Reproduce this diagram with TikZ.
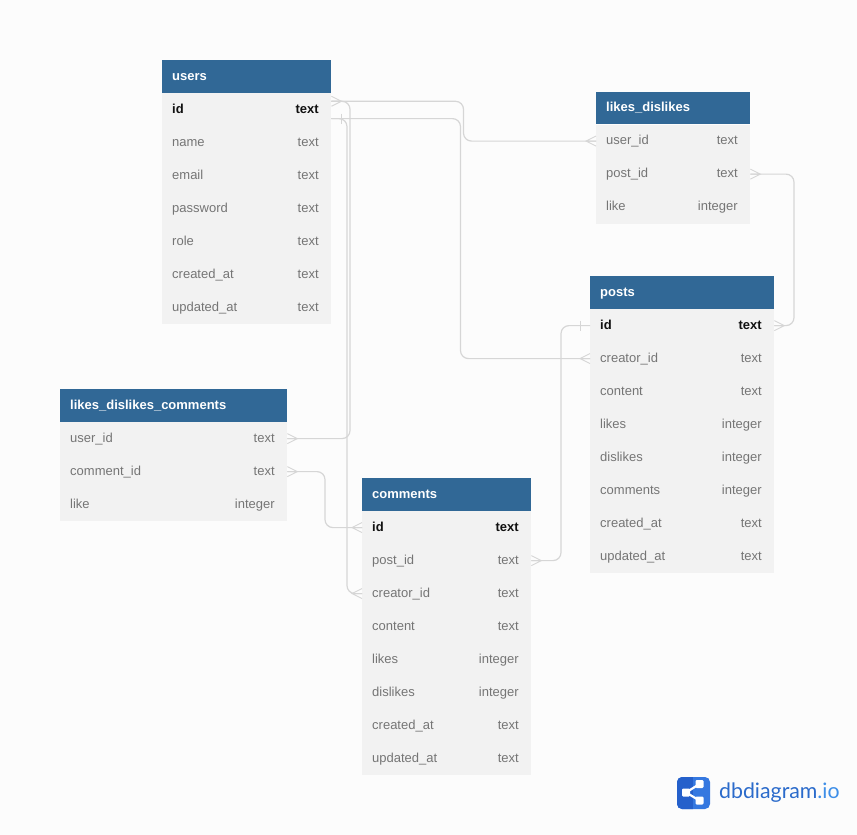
\documentclass[tikz,border=0pt]{standalone}
\usepackage{fontspec}
\setmainfont{Liberation Sans}
\newfontfamily\logofont{Lato}
\usetikzlibrary{calc, positioning}
\definecolor{paper}{HTML}{FCFCFC}
\definecolor{head}{HTML}{316896}
\definecolor{rowfill}{HTML}{F2F2F2}
\definecolor{muted}{HTML}{757575}
\definecolor{ink}{HTML}{111111}
\definecolor{wire}{HTML}{D6D6D6}
\definecolor{logodark}{HTML}{2560CB}
\definecolor{logolight}{HTML}{3578E0}
\definecolor{logotext}{HTML}{2B6BCB}
\definecolor{logotint}{HTML}{3F8FE8}
\tikzset{
  font=\fontsize{13}{15}\selectfont,
  %
  tablehead/.style={
    fill=head, anchor=north west, text=white, align=left, inner xsep=10pt,
    inner ysep=0pt, minimum height=32.5pt, text height=9pt, text depth=1.5pt,
    font=\fontsize{13}{15}\selectfont\bfseries,
  },
  rowbox/.style={
    fill=rowfill, anchor=north west, text=muted,
    align=left, inner xsep=10pt, inner ysep=0pt, minimum height=33pt,
    text height=9.5pt, text depth=2pt,
  },
  keybox/.style={rowbox, text=ink, font=\fontsize{13}{15}\selectfont\bfseries},
  typelbl/.style={text=muted, anchor=east, inner sep=0pt, text height=9.5pt, text depth=2pt},
  keylbl/.style={typelbl, text=ink, font=\fontsize{13}{15}\selectfont\bfseries},
  %
  link/.style={draw=wire, line width=1.2pt, rounded corners=8pt},
  foot/.style={draw=wire, line width=0.9pt},
  crow/.pic={\draw[foot] (0,-5) -- (10,0) -- (0,5) (0,0) -- (10,0);},
  bar/.pic={\draw[foot] (0,0) -- (10,0) (10,-5) -- (10,5);},
}
\begin{document}
\catcode`\_=12
\begin{tikzpicture}[x=1pt, y=-1pt]
\useasboundingbox (0,0) rectangle (857,835);
\fill[paper] (0,0) rectangle (857,835);

% =========================================================================
% TABLES
% =========================================================================
\node[tablehead, text width=149pt] (users) at (162,60) {users};
\node[keybox, text width=149pt, below=0pt of users.south west, anchor=north west] (users-id) {id};
\node[keylbl] (users-id-type) at ([xshift=-12.5pt]users-id.east) {text};
\foreach \rowname/\rowtype [count=\i] in {name/text, email/text, password/text,
    role/text, created_at/text, updated_at/text} {
  \node[rowbox, text width=149pt] (users-\rowname) at ([yshift=-33pt*\i]users-id.north west) {\rowname};
  \node[typelbl] (users-\rowname-type) at ([xshift=-12.5pt]users-\rowname.east) {\rowtype};
}

\node[tablehead, text width=134pt] (likes) at (596,91.5) {likes_dislikes};
\foreach \rowname/\rowtype [count=\i from 0] in {user_id/text, post_id/text, like/integer} {
  \node[rowbox, text width=134pt] (likes-\rowname) at ([yshift=-33pt*\i]likes.south west) {\rowname};
  \node[typelbl] (likes-\rowname-type) at ([xshift=-12.5pt]likes-\rowname.east) {\rowtype};
}

\node[tablehead, text width=164pt] (posts) at (590,276) {posts};
\node[keybox, text width=164pt, below=0pt of posts.south west, anchor=north west] (posts-id) {id};
\node[keylbl] (posts-id-type) at ([xshift=-12.5pt]posts-id.east) {text};
\foreach \rowname/\rowtype [count=\i] in {creator_id/text, content/text, likes/integer,
    dislikes/integer, comments/integer, created_at/text, updated_at/text} {
  \node[rowbox, text width=164pt] (posts-\rowname) at ([yshift=-33pt*\i]posts-id.north west) {\rowname};
  \node[typelbl] (posts-\rowname-type) at ([xshift=-12.5pt]posts-\rowname.east) {\rowtype};
}

\node[tablehead, text width=207pt] (likesc) at (60,389) {likes_dislikes_comments};
\foreach \rowname/\rowtype [count=\i from 0] in {user_id/text, comment_id/text, like/integer} {
  \node[rowbox, text width=207pt] (likesc-\rowname) at ([yshift=-33pt*\i]likesc.south west) {\rowname};
  \node[typelbl] (likesc-\rowname-type) at ([xshift=-12.5pt]likesc-\rowname.east) {\rowtype};
}

\node[tablehead, text width=149pt] (comments) at (362,478) {comments};
\node[keybox, text width=149pt, below=0pt of comments.south west, anchor=north west] (comments-id) {id};
\node[keylbl] (comments-id-type) at ([xshift=-12.5pt]comments-id.east) {text};
\foreach \rowname/\rowtype [count=\i] in {post_id/text, creator_id/text, content/text,
    likes/integer, dislikes/integer, created_at/text, updated_at/text} {
  \node[rowbox, text width=149pt] (comments-\rowname) at ([yshift=-33pt*\i]comments-id.north west) {\rowname};
  \node[typelbl] (comments-\rowname-type) at ([xshift=-12.5pt]comments-\rowname.east) {\rowtype};
}

% =========================================================================
% LINKS
% =========================================================================
\coordinate (u-top) at ([yshift=8.3pt]users-id.east);
\coordinate (u-low) at ([yshift=-9pt]users-id.east);
\coordinate (bus-a) at (463.5,0);
\coordinate (bus-b) at (350,0);
\coordinate (bus-c) at (460.5,0);
\coordinate (bus-d) at (347,0);
\coordinate (bus-e) at (794,0);
\coordinate (bus-f) at (561,0);
\coordinate (bus-g) at (325,0);

\draw[link] (u-top) -- (u-top -| bus-a) -- (likes-user_id.west -| bus-a) -- (likes-user_id.west);
\draw[link] (u-top) -- (u-top -| bus-b) -- (likesc-user_id.east -| bus-b) -- (likesc-user_id.east);
\draw[link] (u-low) -- (u-low -| bus-c) -- (posts-creator_id.west -| bus-c) -- (posts-creator_id.west);
\draw[link] (u-low) -- (u-low -| bus-d) -- (comments-creator_id.west -| bus-d) -- (comments-creator_id.west);
\draw[link] (likes-post_id.east) -- (likes-post_id.east -| bus-e) -- (posts-id.east -| bus-e) -- (posts-id.east);
\draw[link] (comments-post_id.east) -- (comments-post_id.east -| bus-f) -- (posts-id.west -| bus-f) -- (posts-id.west);
\draw[link] (likesc-comment_id.east) -- (likesc-comment_id.east -| bus-g) -- (comments-id.west -| bus-g) -- (comments-id.west);

% the ends at each table
\pic at (u-top) {crow};
\pic at (u-low) {bar};
\pic[xscale=-1] at (likes-user_id.west) {crow};
\pic at (likesc-user_id.east) {crow};
\pic[xscale=-1] at (posts-creator_id.west) {crow};
\pic[xscale=-1] at (comments-creator_id.west) {crow};
\pic at (likes-post_id.east) {crow};
\pic at (posts-id.east) {crow};
\pic at (comments-post_id.east) {crow};
\pic[xscale=-1] at (posts-id.west) {bar};
\pic at (likesc-comment_id.east) {crow};
\pic[xscale=-1] at (comments-id.west) {crow};

% =========================================================================
% LOGO
% =========================================================================
\fill[logolight, rounded corners=5pt] (677,777) rectangle (710,809);
\fill[logodark, rounded corners=5pt] (677,777) rectangle (698,809);
\fill[logolight] (693,777) rectangle (700,809);
\draw[white, line width=2.2pt] (699.5,784) -- (686,792.5) -- (699.5,800.5);
\fill[white, rounded corners=1.2pt] (682,788.5) rectangle (690,796.5);
\fill[white, rounded corners=1.2pt] (695.5,780) rectangle (703.5,788);
\fill[white, rounded corners=1.2pt] (695.5,796.5) rectangle (703.5,804.5);
\node[anchor=west, inner sep=0pt, text=logotext, font=\logofont\fontsize{21.3}{23}\selectfont] (logo-text)
  at (719,793) {dbdiagram{\color{logotint}.io}};

\end{tikzpicture}
\end{document}
